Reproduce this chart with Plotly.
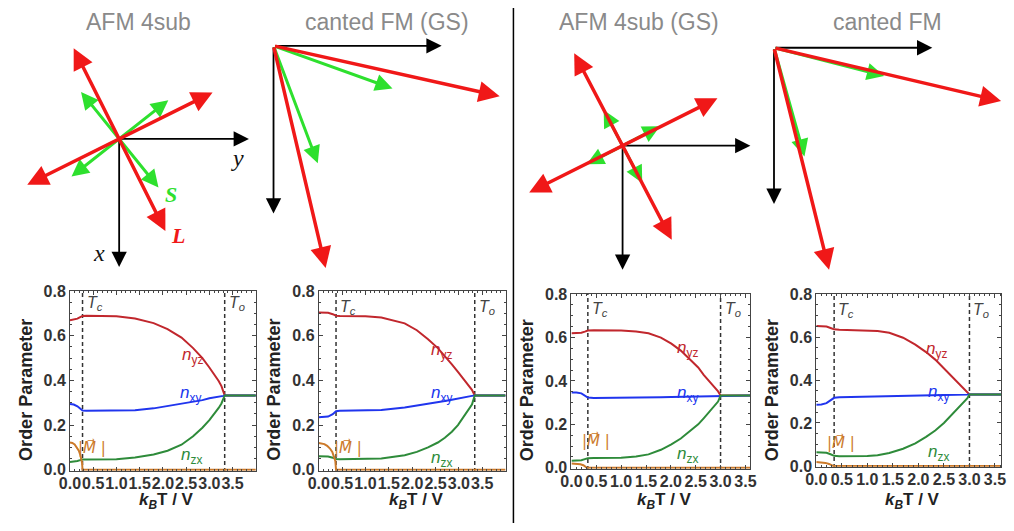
import plotly.graph_objects as go

W, H = 1014, 531

# ---------------- order-parameter data ----------------
# Panel 1: AFM 4sub
T1 = [0, 0.08, 0.16, 0.22, 0.27, 0.35, 0.6, 1.0, 1.4, 1.8, 2.1, 2.4, 2.65, 2.85, 3.0, 3.1, 3.2, 3.26, 3.3, 3.33, 4.0]
nyz1 = [0.670, 0.672, 0.677, 0.684, 0.689, 0.690, 0.690, 0.688, 0.678, 0.657, 0.630, 0.592, 0.545, 0.500, 0.458, 0.430, 0.398, 0.375, 0.355, 0.333, 0.333]
nxy1 = [0.295, 0.292, 0.284, 0.273, 0.265, 0.264, 0.264, 0.265, 0.267, 0.275, 0.285, 0.296, 0.305, 0.312, 0.320, 0.323, 0.325, 0.328, 0.331, 0.333, 0.333]
nzx1 = [0.035, 0.036, 0.039, 0.043, 0.046, 0.046, 0.046, 0.047, 0.055, 0.068, 0.085, 0.112, 0.150, 0.188, 0.222, 0.247, 0.277, 0.297, 0.314, 0.333, 0.333]
TM1 = [0, 0.05, 0.1, 0.15, 0.19, 0.22, 0.245, 0.26, 0.27, 4.0]
M1 = [0.122, 0.120, 0.113, 0.100, 0.085, 0.068, 0.048, 0.030, 0.0, 0.0]

# Panel 2: canted FM (GS)
T2 = [0, 0.1, 0.2, 0.3, 0.37, 0.45, 0.7, 1.0, 1.34, 1.84, 2.1, 2.34, 2.55, 2.7, 2.85, 2.98, 3.1, 3.2, 3.28, 3.34, 4.0]
nyz2 = [0.705, 0.705, 0.703, 0.697, 0.690, 0.689, 0.689, 0.688, 0.682, 0.656, 0.625, 0.585, 0.545, 0.510, 0.472, 0.438, 0.405, 0.380, 0.358, 0.333, 0.333]
nxy2 = [0.235, 0.235, 0.238, 0.249, 0.262, 0.264, 0.265, 0.265, 0.268, 0.279, 0.287, 0.295, 0.302, 0.308, 0.314, 0.320, 0.325, 0.328, 0.331, 0.333, 0.333]
nzx2 = [0.060, 0.060, 0.059, 0.054, 0.048, 0.047, 0.047, 0.047, 0.050, 0.065, 0.080, 0.100, 0.122, 0.143, 0.170, 0.200, 0.235, 0.265, 0.292, 0.333, 0.333]
TM2 = [0, 0.06, 0.12, 0.18, 0.24, 0.29, 0.33, 0.355, 0.37, 4.0]
M2 = [0.120, 0.119, 0.115, 0.107, 0.095, 0.080, 0.060, 0.040, 0.0, 0.0]

# Panel 3: AFM 4sub (GS)
T3 = [0, 0.1, 0.2, 0.27, 0.33, 0.45, 0.7, 1.0, 1.3, 1.55, 1.8, 2.01, 2.2, 2.4, 2.55, 2.66, 2.78, 2.88, 2.95, 3.0, 3.6]
nyz3 = [0.620, 0.620, 0.622, 0.627, 0.632, 0.633, 0.633, 0.632, 0.628, 0.620, 0.600, 0.572, 0.540, 0.498, 0.462, 0.428, 0.397, 0.370, 0.352, 0.333, 0.333]
nxy3 = [0.347, 0.347, 0.343, 0.333, 0.324, 0.322, 0.322, 0.322, 0.323, 0.324, 0.325, 0.326, 0.327, 0.328, 0.329, 0.330, 0.331, 0.332, 0.332, 0.333, 0.333]
nzx3 = [0.033, 0.033, 0.035, 0.040, 0.044, 0.045, 0.045, 0.046, 0.052, 0.062, 0.083, 0.108, 0.135, 0.170, 0.200, 0.228, 0.258, 0.285, 0.305, 0.333, 0.333]
TM3 = [0, 0.1, 0.18, 0.24, 0.28, 0.31, 3.6]
M3 = [0.020, 0.019, 0.016, 0.012, 0.007, 0.0, 0.0]

# Panel 4: canted FM
T4 = [0, 0.1, 0.2, 0.28, 0.35, 0.45, 0.7, 1.0, 1.2, 1.43, 1.7, 1.94, 2.15, 2.33, 2.5, 2.65, 2.8, 2.9, 2.96, 3.0, 3.62]
nyz4 = [0.652, 0.652, 0.649, 0.642, 0.636, 0.634, 0.633, 0.632, 0.628, 0.620, 0.597, 0.565, 0.530, 0.495, 0.455, 0.415, 0.382, 0.360, 0.346, 0.333, 0.333]
nxy4 = [0.285, 0.286, 0.292, 0.306, 0.317, 0.320, 0.321, 0.321, 0.322, 0.323, 0.324, 0.325, 0.326, 0.327, 0.328, 0.329, 0.330, 0.331, 0.332, 0.333, 0.333]
nzx4 = [0.064, 0.064, 0.061, 0.054, 0.047, 0.045, 0.045, 0.046, 0.050, 0.060, 0.080, 0.105, 0.135, 0.165, 0.200, 0.238, 0.275, 0.300, 0.315, 0.333, 0.333]
TM4 = [0, 0.1, 0.18, 0.25, 0.3, 0.33, 3.62]
M4 = [0.018, 0.017, 0.014, 0.009, 0.004, 0.0, 0.0]

Tc = [0.27, 0.37, 0.33, 0.35]
To = [3.33, 3.34, 3.0, 3.0]
Tmax = [4.0, 4.0, 3.6, 3.62]

titles = ["AFM 4sub", "canted FM (GS)", "AFM 4sub (GS)", "canted FM"]
xtick_vals = [0, 0.5, 1.0, 1.5, 2.0, 2.5, 3.0, 3.5]
xtick_text = ["0.0", "0.5", "1.0", "1.5", "2.0", "2.5", "3.0", "3.5"]
ytick_vals = [0, 0.2, 0.4, 0.6, 0.8]
ytick_text = ["0.0", "0.2", "0.4", "0.6", "0.8"]

# ---------------- spin-diagram vectors (right = y comp, down = x comp) ----------------
afm_L = [[0.47, 0.95], [0.95, -0.48]]
afm_S = [[0.40, 0.50], [0.50, -0.40]]
afm_axes = [[1.32, 0.0], [0.0, 1.32]]

cfmgs_L = [[2.30, 0.52], [0.53, 2.29]]
cfmgs_S = [[1.21, 0.44], [0.45, 1.21]]
cfmgs_axes = [[1.71, 0.0], [0.0, 1.73]]

afmgs_L = [[0.50, 0.97], [0.965, -0.49]]
afmgs_S = [[0.20, 0.385], [0.38, -0.20]]
afmgs_axes = [[1.30, 0.0], [0.0, 1.28]]

cfm_L = [[2.31, 0.55], [0.56, 2.29]]
cfm_S = [[1.12, 0.29], [0.31, 1.12]]
cfm_axes = [[1.61, 0.0], [0.0, 1.61]]

# ---------------- styling ----------------
RED = "#c1272d"
BLUE = "#2035ee"
GREEN = "#2e8b3a"
ORANGE = "#cc7a2a"
ARED = "#f01818"
AGREEN = "#2ee02e"
SANS = "Liberation Sans, Arial, sans-serif"
SERIF = "Liberation Serif, DejaVu Serif, serif"

fig = go.Figure()
annotations = []
shapes = []

plot_boxes = [(60, 249, 292, 477), (313, 503, 292, 477), (570, 752, 295, 475), (819, 1007, 295, 473)]
series = [
    (T1, nyz1, nxy1, nzx1, TM1, M1),
    (T2, nyz2, nxy2, nzx2, TM2, M2),
    (T3, nyz3, nxy3, nzx3, TM3, M3),
    (T4, nyz4, nxy4, nzx4, TM4, M4),
]
label_pos = [
    dict(yz=(2.64, 0.51), xy=(2.6, 0.34), zx=(2.62, 0.062), M=(0.48, 0.10), ty=0.745),
    dict(yz=(2.63, 0.53), xy=(2.63, 0.34), zx=(2.63, 0.05), M=(0.63, 0.10), ty=0.728),
    dict(yz=(2.33, 0.545), xy=(2.33, 0.34), zx=(2.33, 0.058), M=(0.49, 0.125), ty=0.728),
    dict(yz=(2.36, 0.54), xy=(2.39, 0.34), zx=(2.39, 0.058), M=(0.49, 0.11), ty=0.725),
]

layout_axes = {}
for i in range(4):
    k = i + 1
    xa, ya = f"x{k}", f"y{k}"
    x0, x1, yt, yb = plot_boxes[i]
    T, nyz, nxy, nzx, TM, M = series[i]
    # dashed transition lines
    for tv in (Tc[i], To[i]):
        fig.add_trace(go.Scatter(x=[tv, tv], y=[-0.01, 0.81], mode="lines", xaxis=xa, yaxis=ya,
                                 line=dict(color="#333333", width=1.5, dash="4px,3px"),
                                 showlegend=False, hoverinfo="skip"))
    fig.add_trace(go.Scatter(x=T, y=nyz, mode="lines", xaxis=xa, yaxis=ya, line=dict(color=RED, width=2), showlegend=False))
    fig.add_trace(go.Scatter(x=T, y=nxy, mode="lines", xaxis=xa, yaxis=ya, line=dict(color=BLUE, width=2), showlegend=False))
    fig.add_trace(go.Scatter(x=T, y=nzx, mode="lines", xaxis=xa, yaxis=ya, line=dict(color=GREEN, width=2), showlegend=False))
    fig.add_trace(go.Scatter(x=TM, y=M, mode="lines", xaxis=xa, yaxis=ya, line=dict(color=ORANGE, width=2), showlegend=False))

    common = dict(showline=True, linecolor="#444444", linewidth=1, mirror="allticks", ticks="inside",
                  ticklen=4, tickcolor="#444444", showgrid=False, zeroline=False,
                  tickfont=dict(family=SANS, size=16, color="#333333", weight="bold"))
    layout_axes[f"xaxis{k}"] = dict(domain=[x0 / W, x1 / W], range=[0, Tmax[i]], anchor=ya, tickangle=0,
                                    tickmode="array", tickvals=xtick_vals, ticktext=xtick_text,
                                    ticklabelstandoff=-2,
                                    minor=dict(dtick=0.1, tick0=0, ticks="inside", ticklen=2, tickcolor="#444444"),
                                    **common)
    layout_axes[f"yaxis{k}"] = dict(domain=[1 - yb / H, 1 - yt / H], range=[-0.004, 0.8], anchor=xa,
                                    tickmode="array", tickvals=ytick_vals, ticktext=ytick_text,
                                    minor=dict(dtick=0.05, tick0=0, ticks="inside", ticklen=2, tickcolor="#444444"),
                                    **common)

    lp = label_pos[i]
    lab_font = dict(family=SANS, size=17)
    annotations += [
        dict(xref=xa, yref=ya, x=lp["yz"][0], y=lp["yz"][1], text="<i>n</i><sub>yz</sub>", showarrow=False,
             xanchor="center", yanchor="middle", font=dict(lab_font, color=RED)),
        dict(xref=xa, yref=ya, x=lp["xy"][0], y=lp["xy"][1], text="<i>n</i><sub>xy</sub>", showarrow=False,
             xanchor="center", yanchor="middle", font=dict(lab_font, color=BLUE)),
        dict(xref=xa, yref=ya, x=lp["zx"][0], y=lp["zx"][1], text="<i>n</i><sub>zx</sub>", showarrow=False,
             xanchor="center", yanchor="middle", font=dict(lab_font, color=GREEN)),
        dict(xref=xa, yref=ya, x=lp["M"][0], y=lp["M"][1], text="|<i>M\u20d7</i> |", showarrow=False,
             xanchor="center", yanchor="middle", font=dict(family="DejaVu Sans", size=15, color=ORANGE)),
        dict(xref=xa, yref=ya, x=Tc[i], y=lp["ty"], xanchor="left", yanchor="middle", xshift=2,
             text="<i>T<sub>c</sub></i>", showarrow=False, font=dict(family=SANS, size=16, color="#444444")),
        dict(xref=xa, yref=ya, x=To[i], y=lp["ty"], xanchor="left", yanchor="middle", xshift=2,
             text="<i>T<sub>o</sub></i>", showarrow=False, font=dict(family=SANS, size=16, color="#444444")),
        # axis titles
        dict(xref="paper", yref="paper", x=(x0 - 45) / W, y=1 - 394 / H, text="<b>Order Parameter</b>",
             textangle=-90, showarrow=False, xanchor="center", yanchor="middle",
             font=dict(family=SANS, size=18, color="#222222")),
        dict(xref="paper", yref="paper", x=((x0 + x1) / 2 + 4) / W, y=1 - 508 / H,
             text="<b><i>k</i><sub><i>B</i></sub>T / V</b>", showarrow=False, xanchor="center", yanchor="middle",
             font=dict(family=SANS, size=17, color="#222222")),
    ]

# ---------------- spin diagrams ----------------
diag_boxes = [(0, 255, 25, 280), (255, 510, 25, 280), (515, 765, 25, 280), (765, 1014, 25, 280)]
diag_origin = [(110, 135), (267, 39), (622, 142), (776, 41)]
diag_data = [(afm_L, afm_S, afm_axes, True), (cfmgs_L, cfmgs_S, cfmgs_axes, False),
             (afmgs_L, afmgs_S, afmgs_axes, True), (cfm_L, cfm_S, cfm_axes, False)]
title_x = [130, 382, 639, 891]
SCALE = 100.0


def arrow(k, tail, head, color, width, size, both):
    annotations.append(dict(xref=f"x{k}", yref=f"y{k}", axref=f"x{k}", ayref=f"y{k}",
                            x=head[0], y=head[1], ax=tail[0], ay=tail[1], text="", showarrow=True,
                            arrowhead=2, arrowsize=size, arrowwidth=width, arrowcolor=color,
                            arrowside="end+start" if both else "end", standoff=0, startstandoff=0))


for j in range(4):
    k = 5 + j
    bx0, bx1, by0, by1 = diag_boxes[j]
    cx, cy = diag_origin[j]
    layout_axes[f"xaxis{k}"] = dict(domain=[bx0 / W, bx1 / W], range=[(bx0 - cx) / SCALE, (bx1 - cx) / SCALE],
                                    visible=False, anchor=f"y{k}", fixedrange=True)
    layout_axes[f"yaxis{k}"] = dict(domain=[1 - by1 / H, 1 - by0 / H], range=[(by1 - cy) / SCALE, (by0 - cy) / SCALE],
                                    visible=False, anchor=f"x{k}", fixedrange=True)
    fig.add_trace(go.Scatter(x=[0], y=[0], mode="markers", marker=dict(opacity=0), xaxis=f"x{k}", yaxis=f"y{k}",
                             showlegend=False, hoverinfo="skip"))
    Lv, Sv, Av, both = diag_data[j]
    for v in Av:
        arrow(k, (0, 0), v, "#000000", 1.8, 1.7, False)
    for v in Sv:
        tail = (-v[0], -v[1]) if both else (0, 0)
        arrow(k, tail, v, AGREEN, 3, 1.15, both)
    for v in Lv:
        tail = (-v[0], -v[1]) if both else (0, 0)
        arrow(k, tail, v, ARED, 3.5, 1.2, both)
    annotations.append(dict(xref="paper", yref="paper", x=title_x[j] / W, y=1 - 14 / H,
                            xanchor="center", yanchor="middle",
                            text=titles[j], showarrow=False, font=dict(family=SANS, size=23, color="#8a8a8a")))

# axis letters and S/L labels on first diagram
annotations += [
    dict(xref="x5", yref="y5", x=1.20, y=0.20, text="<i>y</i>", showarrow=False,
         font=dict(family=SERIF, size=24, color="#111111")),
    dict(xref="x5", yref="y5", x=-0.20, y=1.18, text="<i>x</i>", showarrow=False,
         font=dict(family=SERIF, size=24, color="#111111")),
    dict(xref="x5", yref="y5", x=0.53, y=0.57, text="<b><i>S</i></b>", showarrow=False,
         font=dict(family=SERIF, size=22, color=AGREEN)),
    dict(xref="x5", yref="y5", x=0.60, y=1.00, text="<b><i>L</i></b>", showarrow=False,
         font=dict(family=SERIF, size=22, color=ARED)),
]

shapes.append(dict(type="line", xref="paper", yref="paper", x0=511 / W, x1=511 / W, y0=0, y1=1,
                   line=dict(color="#000000", width=1.5)))

fig.update_layout(width=W, height=H, margin=dict(l=0, r=0, t=0, b=0), paper_bgcolor="white",
                  plot_bgcolor="white", showlegend=False, annotations=annotations, shapes=shapes,
                  **layout_axes)

fig.write_html("out.html")
